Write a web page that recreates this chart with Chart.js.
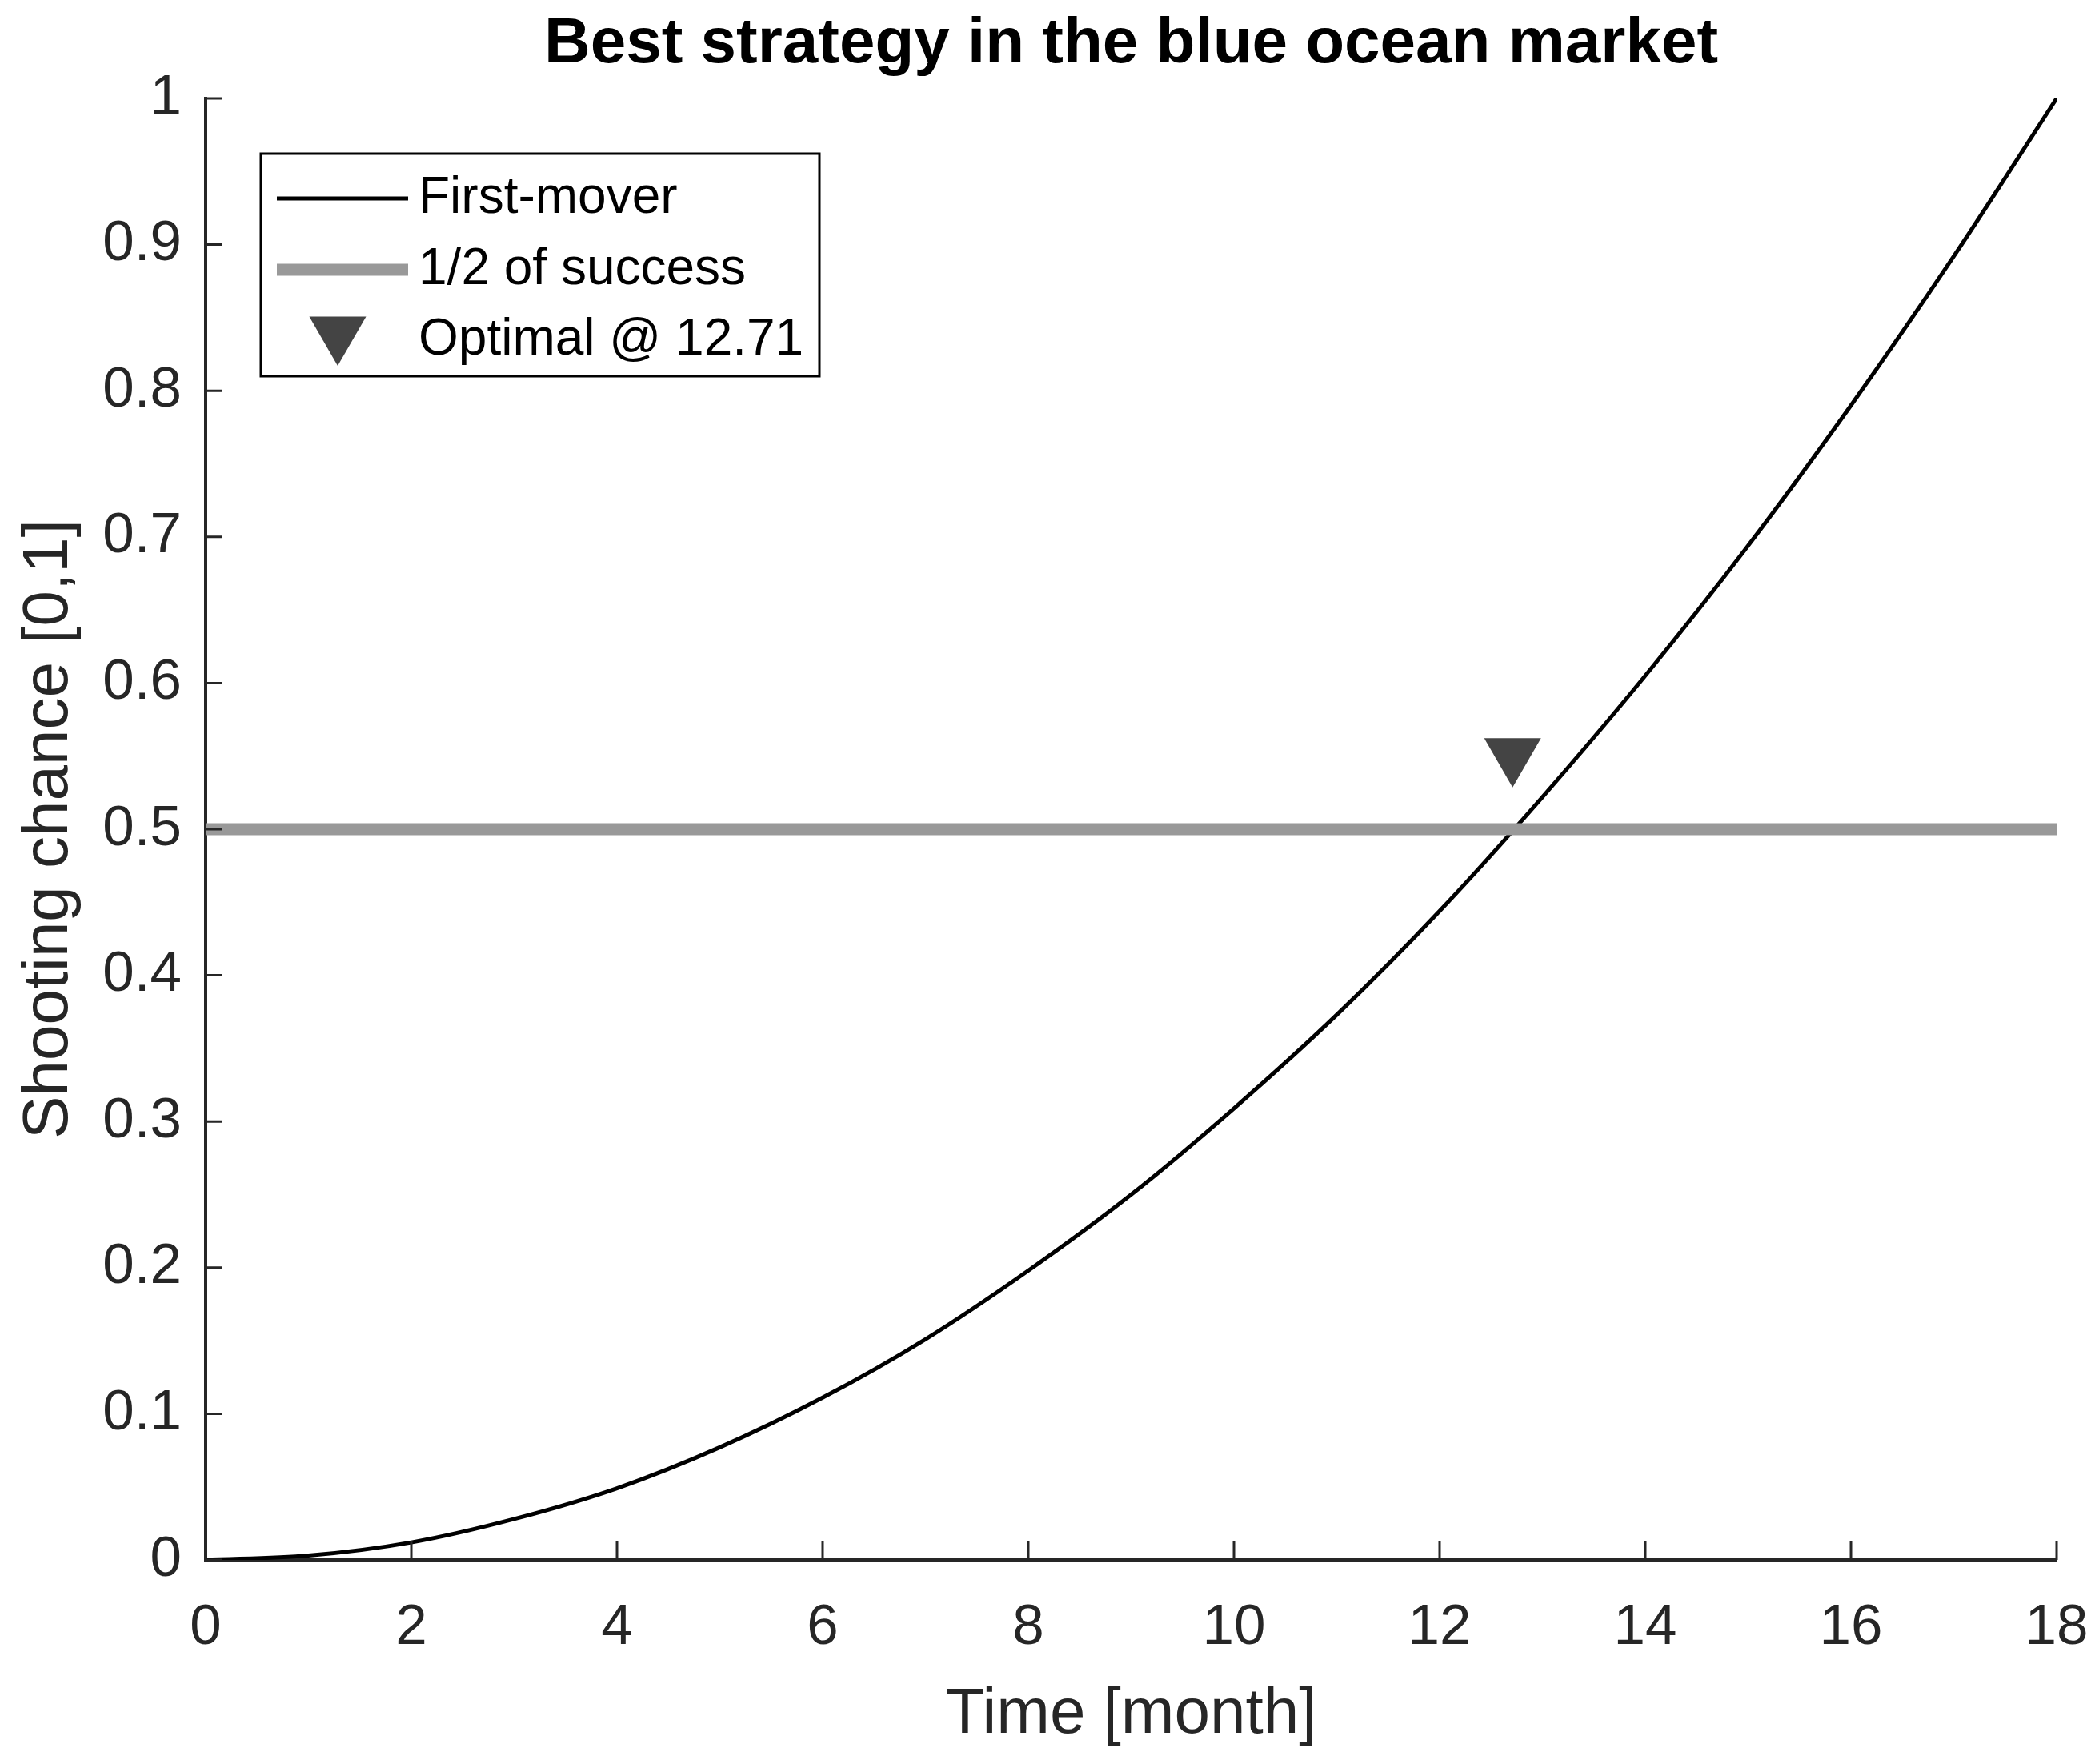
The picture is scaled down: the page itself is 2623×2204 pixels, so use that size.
<!DOCTYPE html>
<html>
<head>
    <title>Best strategy in the blue ocean market</title>
    <script src="https://cdn.jsdelivr.net/npm/chart.js@4.4.1/dist/chart.umd.min.js"></script>
    <style>
        body { margin: 0; background: #ffffff; }
        .chart-box { width: 2623px; height: 2204px; }
    </style>
</head>
<body>
    <div class="chart-box">
        <canvas id="strategyChart"></canvas>
    </div>
    <script>
        // values
        const months = [0, 1, 2, 3, 4, 5, 6, 7, 8, 9, 10, 11, 12, 13, 14, 15, 16, 17, 18];
        const firstMover = [0, 0.003, 0.012, 0.028, 0.049, 0.077, 0.111, 0.151, 0.198, 0.25,
                            0.309, 0.373, 0.444, 0.522, 0.605, 0.694, 0.79, 0.892, 1];
        const halfX = [0, 18];
        const halfY = [0.5, 0.5];
        const optimalX = [12.71];
        const optimalY = [0.551];
        const xTicks = ['0', '2', '4', '6', '8', '10', '12', '14', '16', '18'];
        const yTicks = ['0', '0.1', '0.2', '0.3', '0.4', '0.5', '0.6', '0.7', '0.8', '0.9', '1'];

        const axisColor = '#262626';
        const fontFamily = '"Liberation Sans", Arial, sans-serif';

        function toPoints(xs, ys) {
            return xs.map((x, i) => ({ x: x, y: ys[i] }));
        }

        // MATLAB style ticks pointing into the plot
        const innerTicks = {
            id: 'innerTicks',
            afterDatasetsDraw(chart) {
                const { ctx, chartArea, scales } = chart;
                ctx.save();
                ctx.strokeStyle = axisColor;
                ctx.lineWidth = 3;
                ctx.beginPath();
                scales.x.ticks.forEach(t => {
                    const px = scales.x.getPixelForValue(t.value);
                    ctx.moveTo(px, chartArea.bottom);
                    ctx.lineTo(px, chartArea.bottom - 23);
                });
                scales.y.ticks.forEach(t => {
                    const py = scales.y.getPixelForValue(t.value);
                    ctx.moveTo(chartArea.left, py);
                    ctx.lineTo(chartArea.left + 20, py);
                });
                ctx.stroke();
                ctx.restore();
            }
        };

        // boxed legend sitting inside the top left of the plot
        const boxLegend = {
            id: 'boxLegend',
            afterDraw(chart) {
                const { ctx, chartArea } = chart;
                const left = chartArea.left + 69;
                const top = chartArea.top + 69;
                const width = 698, height = 278;
                ctx.save();
                ctx.fillStyle = '#ffffff';
                ctx.fillRect(left, top, width, height);
                ctx.strokeStyle = '#000000';
                ctx.lineWidth = 3;
                ctx.strokeRect(left, top, width, height);

                const rows = [56, 145, 233];
                const sets = [...chart.data.datasets].sort((a, b) => a.legendIndex - b.legendIndex);
                sets.forEach((ds, i) => {
                    const y = top + rows[i];
                    if (ds.showLine === false) {
                        ctx.fillStyle = ds.backgroundColor;
                        Chart.helpers.drawPoint(ctx, {
                            pointStyle: ds.pointStyle,
                            rotation: ds.rotation,
                            radius: ds.pointRadius,
                            borderWidth: 0
                        }, left + 96, y - 9);
                    } else {
                        ctx.strokeStyle = ds.borderColor;
                        ctx.lineWidth = ds.borderWidth;
                        ctx.beginPath();
                        ctx.moveTo(left + 20, y);
                        ctx.lineTo(left + 184, y);
                        ctx.stroke();
                    }
                    ctx.fillStyle = '#000000';
                    ctx.font = '64px ' + fontFamily;
                    ctx.textBaseline = 'middle';
                    ctx.textAlign = 'left';
                    ctx.fillText(ds.label, left + 197, y);
                });
                ctx.restore();
            }
        };

        Chart.defaults.font.family = fontFamily;

        new Chart(document.getElementById('strategyChart').getContext('2d'), {
            type: 'line',
            data: {
                datasets: [
                    {
                        label: 'First-mover',
                        legendIndex: 0,
                        order: 2,
                        data: toPoints(months, firstMover),
                        borderColor: '#000000',
                        borderWidth: 5,
                        pointRadius: 0,
                        cubicInterpolationMode: 'monotone',
                        fill: false
                    },
                    {
                        label: '1/2 of success',
                        legendIndex: 1,
                        order: 1,
                        data: toPoints(halfX, halfY),
                        borderColor: '#999999',
                        borderWidth: 15,
                        borderCapStyle: 'butt',
                        pointRadius: 0,
                        fill: false
                    },
                    {
                        label: 'Optimal @ 12.71',
                        legendIndex: 2,
                        order: 0,
                        data: toPoints(optimalX, optimalY),
                        showLine: false,
                        pointStyle: 'triangle',
                        rotation: 180,
                        pointRadius: 41,
                        pointBorderWidth: 0,
                        backgroundColor: '#444444',
                        pointBackgroundColor: '#444444',
                        borderColor: '#444444'
                    }
                ]
            },
            options: {
                responsive: true,
                maintainAspectRatio: false,
                animation: false,
                devicePixelRatio: 1,
                layout: { padding: { left: 0, right: 53, top: 0, bottom: 0 } },
                plugins: {
                    legend: { display: false },
                    tooltip: { enabled: false },
                    title: {
                        display: true,
                        fullSize: false,
                        text: 'Best strategy in the blue ocean market',
                        color: '#000000',
                        font: { size: 80, weight: 'bold' },
                        padding: { top: 8, bottom: 19 }
                    }
                },
                scales: {
                    x: {
                        type: 'linear',
                        min: 0,
                        max: 18,
                        afterFit: s => { s.height = 255; s.paddingLeft = 0; s.paddingRight = 0; },
                        afterBuildTicks: s => { s.ticks = xTicks.map(v => ({ value: Number(v) })); },
                        ticks: {
                            color: axisColor,
                            font: { size: 71 },
                            padding: 43,
                            maxRotation: 0,
                            callback: (v, i) => xTicks[i]
                        },
                        grid: { display: false, drawTicks: false },
                        border: { display: true, color: axisColor, width: 4 },
                        title: {
                            display: true,
                            text: 'Time [month]',
                            color: axisColor,
                            font: { size: 80 },
                            padding: 13
                        }
                    },
                    y: {
                        type: 'linear',
                        min: 0,
                        max: 1,
                        afterFit: s => { s.width = 257; s.paddingTop = 0; s.paddingBottom = 0; },
                        afterBuildTicks: s => { s.ticks = yTicks.map(v => ({ value: Number(v) })); },
                        ticks: {
                            color: axisColor,
                            font: { size: 71 },
                            padding: 30,
                            callback: (v, i) => yTicks[i]
                        },
                        grid: { display: false, drawTicks: false },
                        border: { display: true, color: axisColor, width: 4 },
                        title: {
                            display: true,
                            text: 'Shooting chance [0,1]',
                            color: axisColor,
                            font: { size: 80 },
                            padding: 14
                        }
                    }
                }
            },
            plugins: [innerTicks, boxLegend]
        });
    </script>
</body>
</html>
